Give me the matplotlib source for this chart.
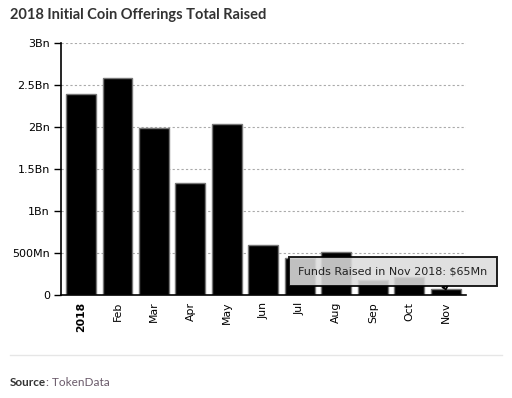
import matplotlib.pyplot as plt
from matplotlib.ticker import FixedLocator

months = ['2018', 'Feb', 'Mar', 'Apr', 'May', 'Jun', 'Jul', 'Aug', 'Sep', 'Oct', 'Nov']
raised_bn = [2.39, 2.58, 1.99, 1.33, 2.04, 0.60, 0.44, 0.51, 0.18, 0.21, 0.065]
ytick_vals = [0, 0.5, 1, 1.5, 2, 2.5, 3]
ytick_labels = ['0', '500Mn', '1Bn', '1.5Bn', '2Bn', '2.5Bn', '3Bn']

fig = plt.figure(figsize=(5.12, 3.98), dpi=100)
ax = fig.add_axes([0.119, 0.259, 0.791, 0.633])

x = range(len(months))
ax.bar(x, raised_bn, width=0.82, color='black', edgecolor='#777777', linewidth=1, zorder=2)

ax.set_xlim(-0.55, len(months) - 0.45)
ax.set_ylim(0, 3)
ax.yaxis.set_major_locator(FixedLocator(ytick_vals))
ax.set_yticklabels(ytick_labels, fontsize=8)
ax.set_xticks(list(x))
ax.set_xticklabels(months, rotation=90, fontsize=7.8)
ax.get_xticklabels()[0].set_fontweight('bold')
ax.tick_params(axis='x', length=0, pad=5)
ax.tick_params(axis='y', length=5, width=1, pad=3)

ax.grid(axis='y', linestyle=(0, (2, 2)), color='#aaaaaa', linewidth=0.8, zorder=0)
ax.set_axisbelow(True)
for s in ['top', 'right']:
    ax.spines[s].set_visible(False)
ax.spines['left'].set_linewidth(1.2)
ax.spines['bottom'].set_linewidth(1.2)

# tooltip over the last bar
last = len(months) - 1
ax.annotate('Funds Raised in Nov 2018: $65Mn', xy=(last, raised_bn[last]),
            xytext=(-38, 13), textcoords='offset points', ha='center', va='center',
            fontsize=8, color='#222222', annotation_clip=False, zorder=5,
            bbox=dict(boxstyle='square,pad=0.85', fc='#dcdcdc', ec='black', lw=1.4, alpha=0.88),
            arrowprops=dict(arrowstyle='wedge,tail_width=0.5', fc='#dcdcdc', ec='black',
                            lw=1.2, relpos=(0.76, 0), shrinkA=0, shrinkB=0))

fig.text(0.02, 0.963, '2018 Initial Coin Offerings Total Raised', fontsize=10.5,
         fontweight='bold', family='Lato', color='#333333', va='center')

fig.add_artist(plt.Line2D([0.02, 0.98], [0.109, 0.109], color='#e6e6e6', lw=1))
src = fig.text(0.02, 0.03, 'Source', fontsize=8.5, fontweight='bold', family='Lato',
               color='#333333', va='baseline')
ax.annotate(': TokenData', xy=(1, 0), xycoords=src, fontsize=8.5, family='Lato',
            color='#6a5a6a', va='bottom', annotation_clip=False)

fig.savefig('out.png', dpi=100)
